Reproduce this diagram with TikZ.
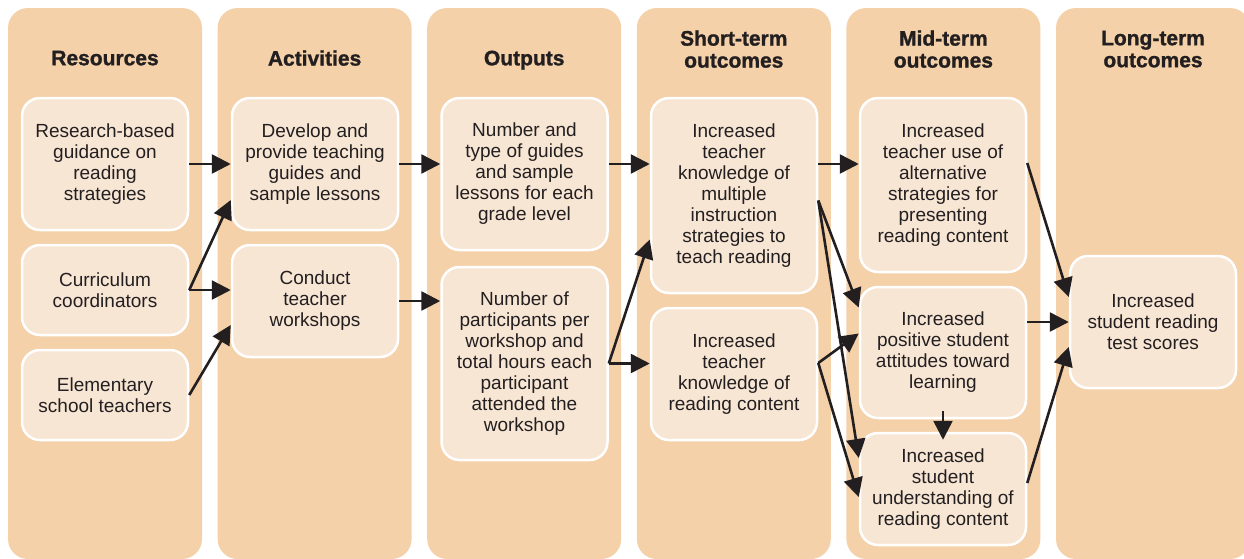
\documentclass[tikz,border=0pt]{standalone}
\usepackage{fontspec}
\setmainfont{Liberation Sans}
\newfontfamily\headfont[BoldFeatures={FakeBold=1.2}]{Liberation Sans}
\usetikzlibrary{arrows.meta}
\definecolor{colfill}{HTML}{F4D1A9}
\definecolor{boxfill}{HTML}{F8E6D5}
\definecolor{ink}{HTML}{231F20}

\begin{document}
\begin{tikzpicture}[x=1pt, y=-1pt,
	box/.style={draw=white, line width=2.5pt, fill=boxfill, rounded corners=18pt, minimum width=166pt, inner sep=0pt, align=center, text=ink, font=\fontsize{19}{21}\selectfont},
	head/.style={align=center, text=ink, text depth=5pt, font=\headfont\bfseries\fontsize{21}{22}\selectfont},
	link/.style={draw=ink, line width=2.6pt, -{Triangle[length=19pt,width=19pt]}}]

	\clip (0,0) rectangle (1244,558);
	\fill[white] (0,0) rectangle (1244,558);

	%columns
	\foreach \i/\t/\ty in {0/Resources/60.5, 1/Activities/60.5, 2/Outputs/60.5, 3/{Short-term\\outcomes}/51.5, 4/{Mid-term\\outcomes}/51.5, 5/{Long-term\\outcomes}/51.5}
	{
		\fill[colfill, rounded corners=20pt] ({8+209.6*\i},8) rectangle +(194,551);
		\node[head] (head\i) at ({105+209.6*\i},\ty) {\t};
	}

	%resources
	\node[box, minimum height=132pt] (res1) at (105,164) {Research-based\\guidance on\\reading\\strategies};
	\node[box, minimum height=90pt] (res2) at (105,290) {Curriculum\\coordinators};
	\node[box, minimum height=90pt] (res3) at (105,395) {Elementary\\school teachers};

	%activities
	\node[box, minimum height=132pt] (act1) at (315,164) {Develop and\\provide teaching\\guides and\\sample lessons};
	\node[box, minimum height=112pt] (act2) at (315,301) {Conduct\\teacher\\workshops};

	%outputs
	\node[box, minimum height=152pt] (out1) at (524.5,174) {Number and\\type of guides\\and sample\\lessons for each\\grade level};
	\node[box, minimum height=193pt] (out2) at (524.5,363.5) {Number of\\participants per\\workshop and\\total hours each\\participant\\attended the\\workshop};

	%short-term
	\node[box, minimum height=195pt] (short1) at (734,195.5) {Increased\\teacher\\knowledge of\\multiple\\instruction\\strategies to\\teach reading};
	\node[box, minimum height=132pt] (short2) at (734,374) {Increased\\teacher\\knowledge of\\reading content};

	%mid-term
	\node[box, minimum height=174pt] (mid1) at (943,185) {Increased\\teacher use of\\alternative\\strategies for\\presenting\\reading content};
	\node[box, minimum height=131pt] (mid2) at (943,352.5) {Increased\\positive student\\attitudes toward\\learning};
	\node[box, minimum height=112pt] (mid3) at (943,489) {Increased\\student\\understanding of\\reading content};

	%long-term
	\node[box, minimum height=132pt] (long1) at (1153,322) {Increased\\student reading\\test scores};

	%links
	\draw[link] (res1.east) -- (act1.west);
	\draw[link] (res2.east) -- ([yshift=-36pt]act1.west);
	\draw[link] (res2.east) -- (act2.west |- res2.east);
	\draw[link] (res3.east) -- ([yshift=-24pt]act2.west);
	\draw[link] (act1.east) -- (out1.west |- act1.east);
	\draw[link] (act2.east) -- (out2.west |- act2.east);
	\draw[link] (out1.east |- act1.east) -- (short1.west |- act1.east);
	\draw[link] (out2.east) -- ([yshift=-44pt]short1.west);
	\draw[link] (out2.east) -- (short2.west |- out2.east);
	\draw[link] (short1.east |- act1.east) -- (mid1.west |- act1.east);
	\coordinate (s1out) at ([yshift=-5pt]short1.east);
	\draw[link] (s1out) -- ([yshift=45pt]mid2.west);
	\draw[link] (s1out) -- ([yshift=31pt]mid3.west);
	\coordinate (s2out) at ([yshift=11pt]short2.east);
	\draw[link] (s2out) -- ([yshift=19pt]mid2.west);
	\draw[link] (s2out) -- ([yshift=-8pt]mid3.west);
	\draw[link] ([yshift=8pt]mid2.south) -- ([yshift=-8pt]mid3.north);
	\draw[link] ([yshift=22pt]mid1.east) -- ([yshift=25pt]long1.west);
	\draw[link] (mid2.east |- long1.west) -- (long1.west);
	\draw[link] ([yshift=6pt]mid3.east) -- ([yshift=-25pt]long1.west);
\end{tikzpicture}
\end{document}
